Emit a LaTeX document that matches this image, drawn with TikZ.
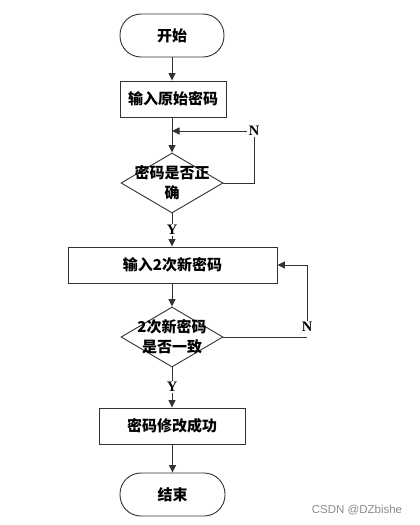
\documentclass[tikz,border=0pt]{standalone}
\usepackage{fontspec}
\setmainfont{Liberation Serif}
\newfontfamily\cjk{Noto Sans CJK SC}
\newfontfamily\wm{Liberation Sans}
\usetikzlibrary{shapes.geometric,arrows.meta}
\begin{document}
\begin{tikzpicture}[x=1pt,y=-1pt,
  line/.style={draw=black!80, line width=0.9pt},
  arr/.style={line, -{Triangle[length=7.5pt,width=7pt]}},
  term/.style={line, rectangle, rounded corners=21pt, minimum width=104pt, minimum height=43pt, inner sep=0pt},
  procbox/.style={line, rectangle, minimum height=36pt, inner sep=0pt},
  dia/.style={line, diamond, minimum width=102pt, minimum height=60pt, inner sep=0pt},
  txt/.style={font=\cjk\bfseries\fontsize{15}{20}\selectfont, align=center, inner sep=0pt},
  yn/.style={font=\bfseries\fontsize{14.5}{14.5}\selectfont, inner sep=1.5pt}
]
\path[use as bounding box, fill=white] (0,0) rectangle (420,525);

\node[term] (start) at (172,35.5) {};
\node[txt] (tstart) at (start) {开始};

\node[procbox, minimum width=106pt] (b1) at (173,99) {};
\node[txt] (tb1) at (b1) {输入原始密码};

\node[dia] (d1) at (172,183) {};
\node[txt] (td1) at (172,183) {密码是否正\\确};

\node[yn] (y1) at (172,230) {Y};

\node[procbox, minimum width=209pt] (b2) at (172.5,265) {};
\node[txt] (tb2) at (b2) {输入2次新密码};

\node[dia] (d2) at (172,337) {};
\node[txt] (td2) at (172,337) {2次新密码\\是否一致};

\node[yn] (y2) at (172,387) {Y};

\node[procbox, minimum width=146pt] (b3) at (172,426) {};
\node[txt] (tb3) at (b3) {密码修改成功};

\node[term, minimum width=105pt] (end) at (172.5,494.5) {};
\node[txt] (tend) at (end) {结束};

\node[yn] (n1) at (254,131) {N};
\node[yn] (n2) at (307,327) {N};

\node[font=\wm\fontsize{11.5}{12}\selectfont, text=black!45, inner sep=0pt] (wm) at (357,510) {CSDN @DZbishe};

% connectors
\draw[arr] (start.south) -- (b1.north -| start.south);
\draw[arr] (b1.south -| d1.north) -- (d1.north);
\draw[line] (d1.east) -| (n1.south);
\draw[arr] (n1.west) -- (n1.west -| d1.north);
\draw[line] (d1.south) -- (y1.north);
\draw[arr] (y1.south) -- (b2.north -| y1.south);
\draw[arr] (b2.south -| d2.north) -- (d2.north);
\draw[line] (d2.east) -- (d2.east -| n2.south);
\draw[arr] (n2.north) |- (b2.east);
\draw[line] (d2.south) -- (y2.north);
\draw[arr] (y2.south) -- (b3.north -| y2.south);
\draw[arr] (b3.south -| end.north) -- (end.north);
\end{tikzpicture}
\end{document}
